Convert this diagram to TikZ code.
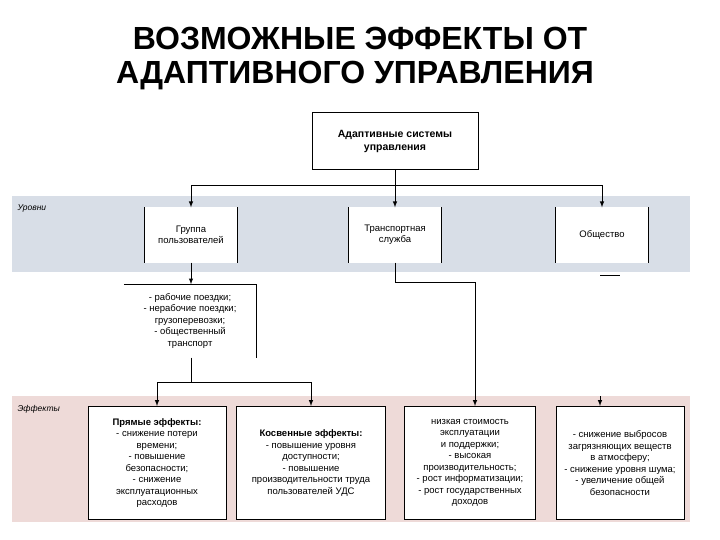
\documentclass[tikz,border=0pt]{standalone}
\usepackage{fontspec}
\setmainfont{Liberation Sans}
\definecolor{bandblue}{HTML}{D8DEE7}
\definecolor{bandpink}{HTML}{EEDAD8}
\begin{document}
\begin{tikzpicture}[x=1pt,y=-1pt,
  conn/.style={line width=1pt},
  arr/.style={line width=1pt,-{latex}},
  lvl/.style={fill=white,minimum width=92pt,minimum height=55pt,align=center,font=\fontsize{9.5}{11}\selectfont,inner sep=1pt},
  eff/.style={draw,line width=1pt,fill=white,minimum height=113pt,align=center,font=\fontsize{9.5}{11.5}\selectfont,inner sep=1pt},
  bandlbl/.style={anchor=north west,font=\itshape\fontsize{8.5}{9}\selectfont}]
\useasboundingbox (0,0) rectangle (720,540);
\fill[white] (0,0) rectangle (720,540);
\node (t1) at (360,38) {\fontsize{32}{34}\selectfont\bfseries ВОЗМОЖНЫЕ ЭФФЕКТЫ ОТ};
\node (t2) at (355,76) {\fontsize{32}{34}\selectfont\bfseries АДАПТИВНОГО УПРАВЛЕНИЯ};
\fill[bandblue] (12,196) rectangle (690,272);
\fill[bandpink] (12,396) rectangle (690,522);
\node[bandlbl] (u) at (14,201) {Уровни};
\node[bandlbl] (e) at (14,402) {Эффекты};
\node[draw,line width=1pt,minimum width=166pt,minimum height=57pt,align=center,font=\bfseries\fontsize{10.5}{13}\selectfont] (top) at (395,141) {Адаптивные системы\\управления};
\node[lvl] (g) at (191,235) {Группа\\пользователей};
\node[lvl] (tr) at (395,235) {Транспортная\\служба};
\node[lvl] (ob) at (602,235) {Общество};
\foreach \n in {g,tr,ob}{\draw[line width=1pt] (\n.north west)--(\n.south west) (\n.north east)--(\n.south east);}
\node[align=center,minimum width=132pt,minimum height=73pt,font=\fontsize{9.5}{11.5}\selectfont,inner sep=1pt] (lst) at (190,321) {- рабочие поездки;\\- нерабочие поездки;\\грузоперевозки;\\- общественный\\транспорт};
\draw[line width=1pt] (lst.north west)--(lst.north east)--(lst.south east);
\node[eff,minimum width=138pt] (e1) at (157,463) {\textbf{Прямые эффекты:}\\- снижение потери\\времени;\\- повышение\\безопасности;\\- снижение\\эксплуатационных\\расходов};
\node[eff,minimum width=149pt] (e2) at (311,463) {\textbf{Косвенные эффекты:}\\- повышение уровня\\доступности;\\- повышение\\производительности труда\\пользователей УДС};
\node[eff,minimum width=131pt] (e3) at (470,463) {низкая стоимость\\эксплуатации\\и поддержки;\\- высокая\\производительность;\\- рост информатизации;\\- рост государственных\\доходов};
\node[eff,minimum width=128pt] (e4) at (620,463) {- снижение выбросов\\загрязняющих веществ\\в атмосферу;\\- снижение уровня шума;\\- увеличение общей\\безопасности};
\coordinate (j) at (395,186);
\draw[conn] (top.south)--(j);
\draw[arr] (j)-|(g.north);
\draw[arr] (j)--(tr.north);
\draw[arr] (j)-|(ob.north);
\draw[arr] (g.south)--(g.south|-lst.north);
\coordinate (k) at (191,382);
\draw[conn] (g.south|-lst.south)--(k);
\draw[arr] (k)-|(e1.north);
\draw[arr] (k)-|(e2.north);
\coordinate (m) at (475,282);
\draw[conn] (tr.south)|-(m);
\draw[arr] (m)--(m|-e3.north);
\coordinate (s) at (600,396);
\draw[arr] (s)--(s|-e4.north);
\coordinate (d1) at (600,275);\coordinate (d2) at (620,275);
\draw[line width=0.8pt] (d1)--(d2);
\end{tikzpicture}
\end{document}
